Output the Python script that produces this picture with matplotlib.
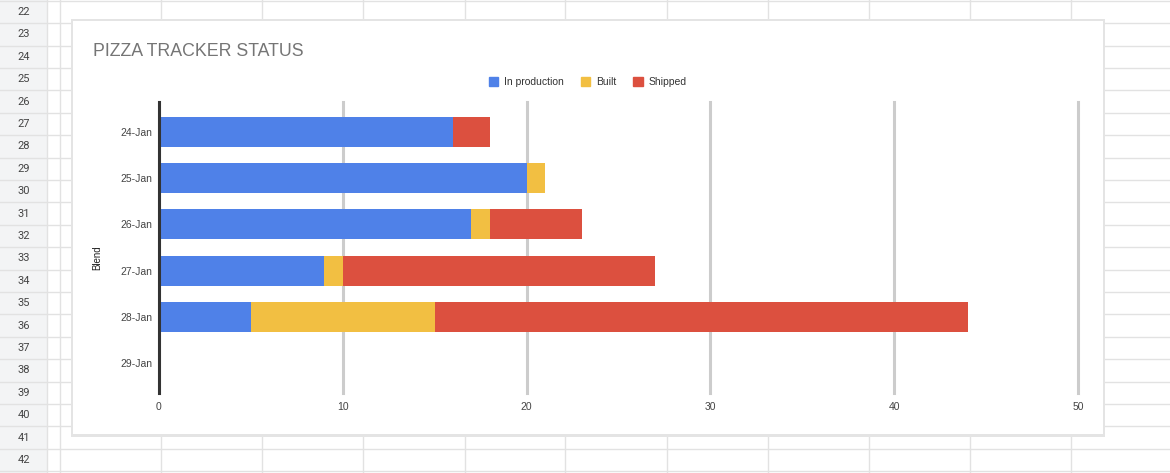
import matplotlib.pyplot as plt
from matplotlib.patches import Rectangle, Patch
import numpy as np

# chart data
dates = ['24-Jan', '25-Jan', '26-Jan', '27-Jan', '28-Jan', '29-Jan']
in_production = [16, 20, 17, 9, 5, 0]
built = [0, 1, 1, 1, 10, 0]
shipped = [2, 0, 5, 17, 29, 0]

# spreadsheet rows visible behind the chart
row_numbers = list(range(22, 43))

W, H = 1170, 473
blue, yellow, red = '#4f81e8', '#f2bf42', '#dc503f'
plt.rcParams['font.family'] = ['Liberation Sans', 'DejaVu Sans']

fig = plt.figure(figsize=(W / 100, H / 100), dpi=100)

# background: the sheet grid, drawn in pixel coords
bg = fig.add_axes([0, 0, 1, 1], zorder=0)
bg.set_xlim(0, W)
bg.set_ylim(H, 0)
bg.axis('off')
bg.add_patch(Rectangle((0, 0), 47, H, color='#f3f4f5', lw=0, zorder=0))
for i, n in enumerate(row_numbers):
    yc = 12 + i * 22.4
    bg.text(24, yc, str(n), ha='center', va='center', fontsize=8, color='#444444',
            family=['Roboto', 'DejaVu Sans'])
    bg.axhline(yc + 11.2, color='#e2e2e2', lw=1, zorder=1)
bg.axhline(1, color='#e2e2e2', lw=1, zorder=1)
for x in [47, 60, 161, 262, 363, 465, 565, 667, 768, 869, 970, 1071]:
    bg.axvline(x, color='#e2e2e2', lw=1, zorder=1)

# chart card (covers the sheet grid)
bg.add_patch(Rectangle((71, 19), 1034, 418, facecolor='#e4e4e4', lw=0, zorder=5))
bg.add_patch(Rectangle((73, 21), 1030, 413, facecolor='white', lw=0, zorder=6))

bg.text(93, 51, 'PIZZA TRACKER STATUS', ha='left', va='center', fontsize=12.8,
        color='#757575', zorder=7)
bg.text(97, 258, 'Blend', ha='center', va='center', rotation=90, fontsize=7,
        color='#222222', zorder=7)

# main plot
left, right, top, bottom = 159, 1078, 102, 393
ax = fig.add_axes([left / W, 1 - bottom / H, (right - left) / W, (bottom - top) / H],
                  zorder=1)
ax.patch.set_alpha(0)

y = np.arange(len(dates))
prod = np.array(in_production)
bui = np.array(built)
shp = np.array(shipped)
h = 0.65
ax.barh(y, prod, height=h, color=blue, zorder=3)
ax.barh(y, bui, left=prod, height=h, color=yellow, zorder=3)
ax.barh(y, shp, left=prod + bui, height=h, color=red, zorder=3)

ax.set_xlim(0, 50)
ax.set_ylim(5.65, -0.65)
ax.set_xticks([0, 10, 20, 30, 40, 50])
ax.set_yticks(y)
ax.set_yticklabels(dates)
ax.tick_params(length=0, labelsize=7.5, colors='#444444')
ax.tick_params(axis='x', pad=6.5)
ax.tick_params(axis='y', pad=5)
ax.xaxis.grid(True, color='#cccccc', lw=2.2, zorder=1)
for gl in ax.get_xgridlines():
    gl.set_clip_on(False)
ax.axvline(0, color='#333333', lw=2.2, zorder=4, clip_on=False)
for s in ax.spines.values():
    s.set_visible(False)

handles = [Patch(color=blue), Patch(color=yellow), Patch(color=red)]
fig.legend(handles, ['In production', 'Built', 'Shipped'], loc='center',
           bbox_to_anchor=(588 / W, 1 - 82 / H), ncol=3, frameon=False,
           fontsize=7.5, handlelength=0.9, handleheight=0.9, handletextpad=0.6,
           columnspacing=1.6, labelcolor='#333333')

fig.savefig('out.png', dpi=100)
